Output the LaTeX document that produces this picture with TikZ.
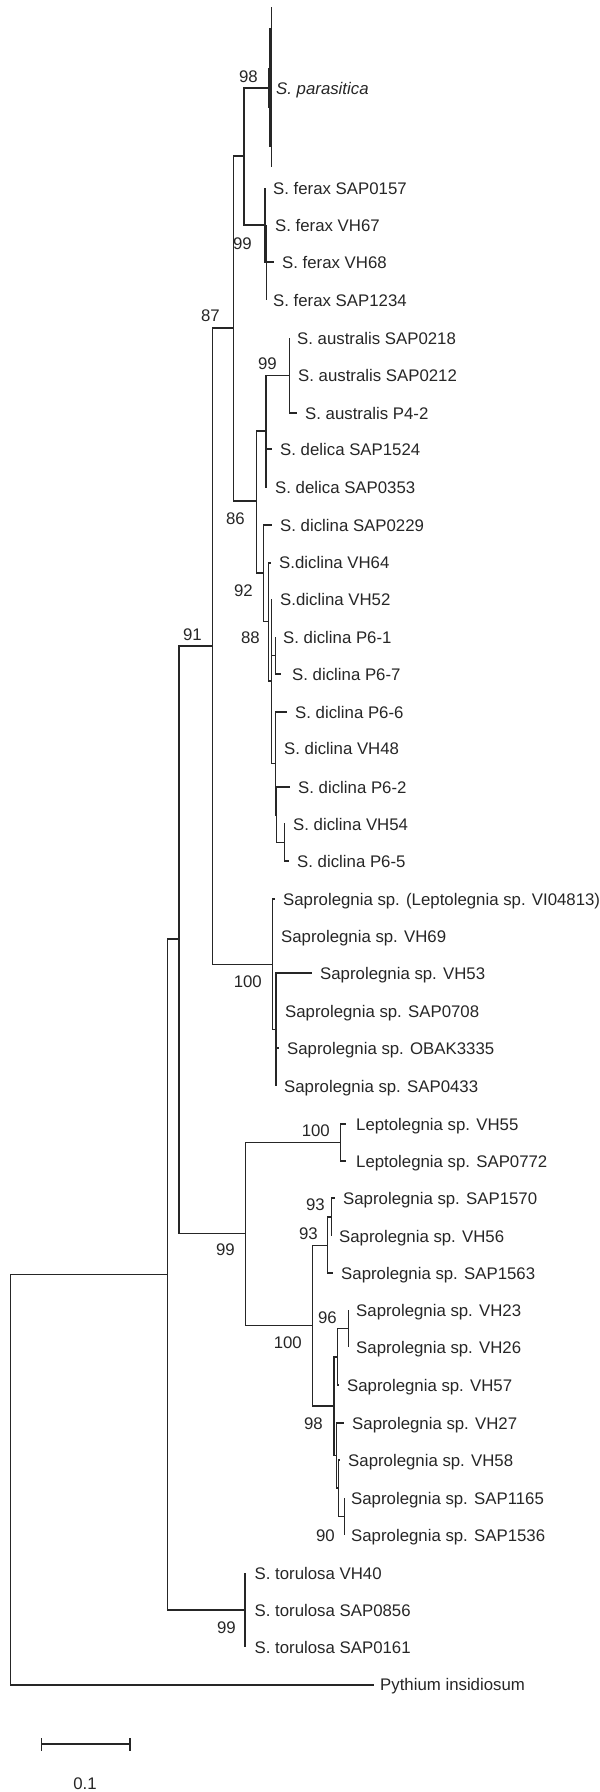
\documentclass[tikz,border=0pt]{standalone}
\usepackage{fontspec}
\setmainfont{Liberation Sans}
\newcommand{\treeedge}[2]{\draw[br] (#1) |- (#2);}
\newcommand{\taxon}[4]{\node[tax] (#1) at (#2,{#3+6.5}) {#4};}
\newcommand{\boot}[4]{\node[bs] (#1) at (#2,{#3+6.5}) {#4};}
\begin{document}
\begin{tikzpicture}[x=1pt,y=-1pt,
  br/.style={line width=1.35pt, draw=black!85},
  tax/.style={anchor=base west, inner sep=0pt, font=\fontsize{16.8}{20}\selectfont, text=black!85},
  bs/.style={anchor=base east, inner sep=0pt, font=\fontsize{16.8}{20}\selectfont, text=black!85}]
\useasboundingbox (0,0) rectangle (600,1792);
% ---- internal nodes and tips
\coordinate (R) at (10.5,1479.5);
\coordinate (Pyt) at (374,1685);
\coordinate (A) at (167.3,1274.5);
\coordinate (B) at (179,939);
\coordinate (T) at (245,1610);
\coordinate (tor1) at (245,1573);
\coordinate (tor2) at (245,1610);
\coordinate (tor3) at (245,1647);
\coordinate (N91) at (212.7,646);
\coordinate (L99) at (245.7,1233.5);
\coordinate (Q) at (233.3,328);
\coordinate (S100) at (272.7,964.5);
\coordinate (P) at (244,156);
\coordinate (par) at (271.7,88);
\coordinate (F) at (265,225);
\coordinate (fer1) at (265,188);
\coordinate (F2) at (266.5,262.5);
\coordinate (fer2) at (266.5,225);
\coordinate (fer3) at (274,262);
\coordinate (fer4) at (266.5,300);
\coordinate (D) at (256.7,501);
\coordinate (DA) at (266,431);
\coordinate (AU) at (289.3,375.5);
\coordinate (au1) at (289.3,338);
\coordinate (au2) at (289.3,375);
\coordinate (au3) at (296.5,413);
\coordinate (del1) at (271.5,449);
\coordinate (del2) at (266.5,487);
\coordinate (DI) at (263.3,573);
\coordinate (d0229) at (271.5,525);
\coordinate (DI2) at (268.3,621.5);
\coordinate (vh64) at (270.5,563);
\coordinate (N2) at (271.7,681);
\coordinate (vh52) at (271.7,599);
\coordinate (P61) at (275.7,655.5);
\coordinate (p61) at (275.7,637);
\coordinate (p67) at (281,674);
\coordinate (N3) at (275.7,763.5);
\coordinate (p66) at (286.5,712);
\coordinate (vh48) at (275.7,748);
\coordinate (N4) at (276.7,815);
\coordinate (p62) at (289.5,787);
\coordinate (N5) at (284.3,842.5);
\coordinate (vh54) at (284.5,824);
\coordinate (p65) at (288.5,861);
\coordinate (lep0) at (274.5,899);
\coordinate (vh69) at (272.7,936);
\coordinate (S2) at (276,1029.5);
\coordinate (vh53) at (311.5,973);
\coordinate (s0708) at (276.5,1011);
\coordinate (obak) at (278.5,1048);
\coordinate (s0433) at (276,1086);
\coordinate (LEP) at (340.7,1142.5);
\coordinate (vh55) at (346,1124);
\coordinate (s0772) at (346,1161);
\coordinate (G) at (312.7,1325.5);
\coordinate (G1) at (327.7,1245.5);
\coordinate (G1a) at (331.7,1217);
\coordinate (s1570) at (334.5,1198);
\coordinate (vh56) at (331.7,1236);
\coordinate (s1563) at (332.5,1273);
\coordinate (G2) at (334,1406);
\coordinate (H0) at (337.3,1357);
\coordinate (H) at (348.3,1328.5);
\coordinate (vh23) at (348.3,1310);
\coordinate (vh26) at (348.3,1347);
\coordinate (vh57) at (338.5,1385);
\coordinate (K) at (336.7,1455.5);
\coordinate (vh27) at (343.5,1423);
\coordinate (K1) at (338.3,1488);
\coordinate (vh58) at (339.5,1460);
\coordinate (K2) at (344.4,1516.5);
\coordinate (s1165) at (344.4,1498);
\coordinate (s1536) at (344.4,1535);
% ---- branches
\treeedge{R}{A}\treeedge{R}{Pyt}
\treeedge{A}{B}\treeedge{A}{T}
\treeedge{T}{tor1}\treeedge{T}{tor2}\treeedge{T}{tor3}
\treeedge{B}{N91}\treeedge{B}{L99}
\treeedge{N91}{Q}\treeedge{N91}{S100}
\treeedge{Q}{P}\treeedge{Q}{D}
\treeedge{P}{par}\treeedge{P}{F}
\treeedge{F}{fer1}\treeedge{F}{F2}
\treeedge{F2}{fer2}\treeedge{F2}{fer3}\treeedge{F2}{fer4}
\treeedge{D}{DA}\treeedge{D}{DI}
\treeedge{DA}{AU}\treeedge{DA}{del1}\treeedge{DA}{del2}
\treeedge{AU}{au1}\treeedge{AU}{au2}\treeedge{AU}{au3}
\treeedge{DI}{d0229}\treeedge{DI}{DI2}
\treeedge{DI2}{vh64}\treeedge{DI2}{N2}
\treeedge{N2}{vh52}\treeedge{N2}{P61}\treeedge{N2}{N3}
\treeedge{P61}{p61}\treeedge{P61}{p67}
\treeedge{N3}{p66}\treeedge{N3}{vh48}\treeedge{N3}{N4}
\treeedge{N4}{p62}\treeedge{N4}{N5}
\treeedge{N5}{vh54}\treeedge{N5}{p65}
\treeedge{S100}{lep0}\treeedge{S100}{vh69}\treeedge{S100}{S2}
\treeedge{S2}{vh53}\treeedge{S2}{s0708}\treeedge{S2}{obak}\treeedge{S2}{s0433}
\treeedge{L99}{LEP}\treeedge{L99}{G}
\treeedge{LEP}{vh55}\treeedge{LEP}{s0772}
\treeedge{G}{G1}\treeedge{G}{G2}
\treeedge{G1}{G1a}\treeedge{G1}{s1563}
\treeedge{G1a}{s1570}\treeedge{G1a}{vh56}
\treeedge{G2}{H0}\treeedge{G2}{K}
\treeedge{H0}{H}\treeedge{H0}{vh57}
\treeedge{H}{vh23}\treeedge{H}{vh26}
\treeedge{K}{vh27}\treeedge{K}{K1}
\treeedge{K1}{vh58}\treeedge{K1}{K2}
\treeedge{K2}{s1165}\treeedge{K2}{s1536}
% collapsed S. parasitica clade
\coordinate (parT) at (271.7,7);
\coordinate (parB) at (271.7,167);
\draw[br] (parT) -- (parB);
\draw[draw=black!85, line width=2.8pt] (270.8,28) -- (270.8,147);
\draw[draw=black!85, line width=4pt] (270.2,68) -- (270.2,108);
% ---- taxon labels
\taxon{tpar}{276}{88}{\textit{S. parasitica}}
\taxon{tfer1}{273}{188}{S. ferax SAP0157}
\taxon{tfer2}{275}{225}{S. ferax VH67}
\taxon{tfer3}{282}{262}{S. ferax VH68}
\taxon{tfer4}{273}{300}{S. ferax SAP1234}
\taxon{tau1}{297}{338}{S. australis SAP0218}
\taxon{tau2}{298}{375}{S. australis SAP0212}
\taxon{tau3}{305}{413}{S. australis P4-2}
\taxon{tdel1}{280}{449}{S. delica SAP1524}
\taxon{tdel2}{275}{487}{S. delica SAP0353}
\taxon{td0229}{280}{525}{S. diclina SAP0229}
\taxon{tvh64}{279}{562}{S.diclina VH64}
\taxon{tvh52}{280}{599}{S.diclina VH52}
\taxon{tp61}{283}{637}{S. diclina P6-1}
\taxon{tp67}{292}{674}{S. diclina P6-7}
\taxon{tp66}{295}{712}{S. diclina P6-6}
\taxon{tvh48}{284}{748}{S. diclina VH48}
\taxon{tp62}{298}{787}{S. diclina P6-2}
\taxon{tvh54}{293}{824}{S. diclina VH54}
\taxon{tp65}{297}{861}{S. diclina P6-5}
\taxon{tlep0}{283}{899}{Saprolegnia sp. (Leptolegnia sp. VI04813)}
\taxon{tvh69}{281}{936}{Saprolegnia sp. VH69}
\taxon{tvh53}{320}{973}{Saprolegnia sp. VH53}
\taxon{ts0708}{285}{1011}{Saprolegnia sp. SAP0708}
\taxon{tobak}{287}{1048}{Saprolegnia sp. OBAK3335}
\taxon{ts0433}{284}{1086}{Saprolegnia sp. SAP0433}
\taxon{tvh55}{356}{1124}{Leptolegnia sp. VH55}
\taxon{ts0772}{356}{1161}{Leptolegnia sp. SAP0772}
\taxon{ts1570}{343}{1198}{Saprolegnia sp. SAP1570}
\taxon{tvh56}{339}{1236}{Saprolegnia sp. VH56}
\taxon{ts1563}{341}{1273}{Saprolegnia sp. SAP1563}
\taxon{tvh23}{356}{1310}{Saprolegnia sp. VH23}
\taxon{tvh26}{356}{1347}{Saprolegnia sp. VH26}
\taxon{tvh57}{347}{1385}{Saprolegnia sp. VH57}
\taxon{tvh27}{352}{1423}{Saprolegnia sp. VH27}
\taxon{tvh58}{348}{1460}{Saprolegnia sp. VH58}
\taxon{ts1165}{351}{1498}{Saprolegnia sp. SAP1165}
\taxon{ts1536}{351}{1535}{Saprolegnia sp. SAP1536}
\taxon{ttor1}{254.5}{1573}{S. torulosa VH40}
\taxon{ttor2}{254.5}{1610}{S. torulosa SAP0856}
\taxon{ttor3}{254.5}{1647}{S. torulosa SAP0161}
\taxon{tpyt}{380}{1684}{Pythium insidiosum}
% ---- bootstrap values
\boot{b98a}{258}{76}{98}
\boot{b99a}{252}{243}{99}
\boot{b87}{220}{315}{87}
\boot{b99b}{277}{363}{99}
\boot{b86}{245}{518}{86}
\boot{b92}{253}{590}{92}
\boot{b91}{202}{634}{91}
\boot{b88}{260}{637}{88}
\boot{b100a}{262}{981}{100}
\boot{b100b}{330}{1130}{100}
\boot{b93a}{325}{1204}{93}
\boot{b93b}{318}{1233}{93}
\boot{b99c}{235}{1249}{99}
\boot{b96}{337}{1317}{96}
\boot{b100c}{302}{1342}{100}
\boot{b98b}{323}{1423}{98}
\boot{b90}{335}{1535}{90}
\boot{b99d}{236}{1627}{99}
% ---- scale bar
\coordinate (sb1) at (41.7,1744);
\coordinate (sb2) at (130,1744);
\draw[br] (sb1) -- (sb2);
\draw[br] ([yshift=-6.5pt]sb1) -- ([yshift=6.5pt]sb1);
\draw[br] ([yshift=-6.5pt]sb2) -- ([yshift=6.5pt]sb2);
\node[anchor=base, inner sep=0pt, font=\fontsize{16.8}{20}\selectfont, text=black!85] (sblab) at (85,1789.5) {0.1};
\end{tikzpicture}
\end{document}
